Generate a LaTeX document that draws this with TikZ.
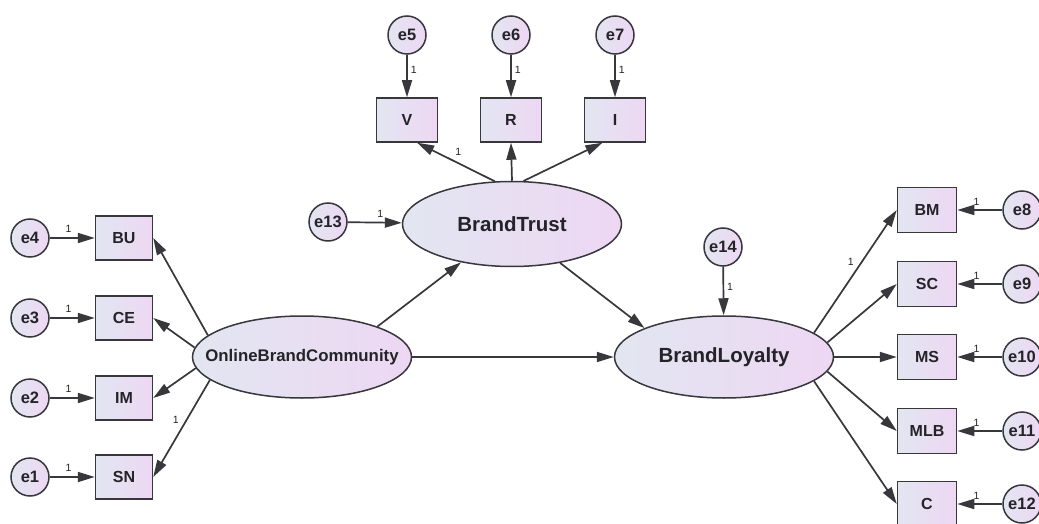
\documentclass[tikz,border=0pt]{standalone}
\usepackage{fontspec}
\setmainfont{Liberation Sans}
\usetikzlibrary{arrows.meta,shapes.geometric}
\definecolor{lavL}{RGB}{226,230,241}
\definecolor{lavR}{RGB}{238,215,243}
\definecolor{edgec}{RGB}{55,55,60}
\definecolor{txtc}{RGB}{35,35,40}
\tikzset{
  shade box/.style={left color=lavL, right color=lavR, shading=axis, shading angle=90},
  latent/.style={ellipse, draw=edgec, line width=1.5pt, shade box, inner sep=0pt,
    minimum width=219pt, minimum height=82pt, text=txtc, font=\bfseries\fontsize{20.5}{22}\selectfont},
  obsbox/.style={rectangle, draw=edgec, line width=1.5pt, shade box, inner sep=0pt,
    minimum width=57pt, minimum height=44pt, text=txtc, font=\bfseries\fontsize{16}{18}\selectfont},
  errc/.style={circle, draw=edgec, line width=1.5pt, shade box, inner sep=0pt,
    minimum size=38pt, text=txtc, font=\bfseries\fontsize{16.5}{18}\selectfont},
  path/.style={draw=edgec, line width=1.7pt, -{Triangle[length=17pt,width=10pt]}},
  one/.style={font=\fontsize{10.5}{11}\selectfont, text=txtc, inner sep=1pt}
}
\begin{document}
\begin{tikzpicture}[x=1pt,y=-1pt]
\useasboundingbox (0,0) rectangle (1039,524);
\fill[white] (0,0) rectangle (1039,524);
% latent variables
\node[latent, minimum height=85pt] (BT) at (512,224) {\makebox[0pt]{BrandTrust}};
\node[latent, font=\bfseries\fontsize{16.8}{18}\selectfont] (OBC) at (302,357) {\makebox[0pt]{OnlineBrandCommunity}};
\node[latent] (BL) at (724,357) {\makebox[0pt]{BrandLoyalty}};
% left boxes
\node[obsbox] (BU) at (124,238) {BU};
\node[obsbox] (CE) at (124,318) {CE};
\node[obsbox] (IM) at (124,398) {IM};
\node[obsbox] (SN) at (124,477) {SN};
% top boxes
\node[obsbox, minimum width=61pt] (V) at (407,120) {V};
\node[obsbox, minimum width=61pt] (R) at (511,120) {R};
\node[obsbox, minimum width=61pt] (I) at (615,120) {I};
% right boxes
\node[obsbox, minimum width=59pt, minimum height=45pt] (BM) at (927,210) {BM};
\node[obsbox, minimum width=59pt, minimum height=45pt] (SC) at (927,284) {SC};
\node[obsbox, minimum width=59pt, minimum height=45pt] (MS) at (927,357) {MS};
\node[obsbox, minimum width=59pt, minimum height=45pt] (MLB) at (927,431) {MLB};
\node[obsbox, minimum width=59pt, minimum height=45pt] (C) at (927,504) {C};
% error terms
\node[errc] (e4) at (30,238) {e4};
\node[errc] (e3) at (30,318) {e3};
\node[errc] (e2) at (30,398) {e2};
\node[errc] (e1) at (30,477) {e1};
\node[errc] (e5) at (407,35) {e5};
\node[errc] (e6) at (511,35) {e6};
\node[errc] (e7) at (615,35) {e7};
\node[errc] (e13) at (328,222) {e13};
\node[errc] (e14) at (723,247) {e14};
\node[errc] (e8) at (1022,210) {e8};
\node[errc] (e9) at (1022,284) {e9};
\node[errc] (e10) at (1022,357) {e10};
\node[errc] (e11) at (1022,431) {e11};
\node[errc] (e12) at (1022,504) {e12};
% error paths
\foreach \e/\b in {e4/BU,e3/CE,e2/IM,e1/SN}{
  \draw[path] (\e) -- node[one, pos=0.42, above=4pt] {1} (\b);
}
\foreach \e/\b in {e5/V,e6/R,e7/I}{
  \draw[path] (\e) -- node[one, pos=0.36, right=2pt] {1} (\b);
}
\foreach \e/\b in {e8/BM,e9/SC,e10/MS,e11/MLB,e12/C}{
  \draw[path] (\e) -- node[one, pos=0.57, above=3pt] {1} (\b);
}
\draw[path] (e13) -- node[one, pos=0.6, above=3pt] {1} (BT);
\draw[path] (e14) -- node[one, pos=0.42, right=2pt] {1} (BL);
% measurement paths
\draw[path] (OBC.167) -- (BU.east);
\draw[path] (OBC.175) -- (CE.east);
\draw[path] (OBC.186) -- (IM.east);
\draw[path] (OBC.194) -- node[one, pos=0.41, left=6pt] {1} (SN.east);
\draw[path] (BT.112) -- node[one, pos=0.47, above=6pt] {1} (V.-66);
\draw[path] (BT.90) -- (R.south);
\draw[path] (BT.75) -- (I.-119);
\draw[path] (BL.15) -- node[one, pos=0.575, left=6pt] {1} (BM.west);
\draw[path] (BL.8) -- (SC.west);
\draw[path] (BL.east) -- (MS.west);
\draw[path] (BL.-8) -- (MLB.west);
\draw[path] (BL.-15) -- (C.west);
% structural paths
\draw[path] (OBC.22) -- (BT.217);
\draw[path] (OBC.east) -- (BL.west);
\draw[path] (BT.-39) -- (BL.160);
\end{tikzpicture}
\end{document}
